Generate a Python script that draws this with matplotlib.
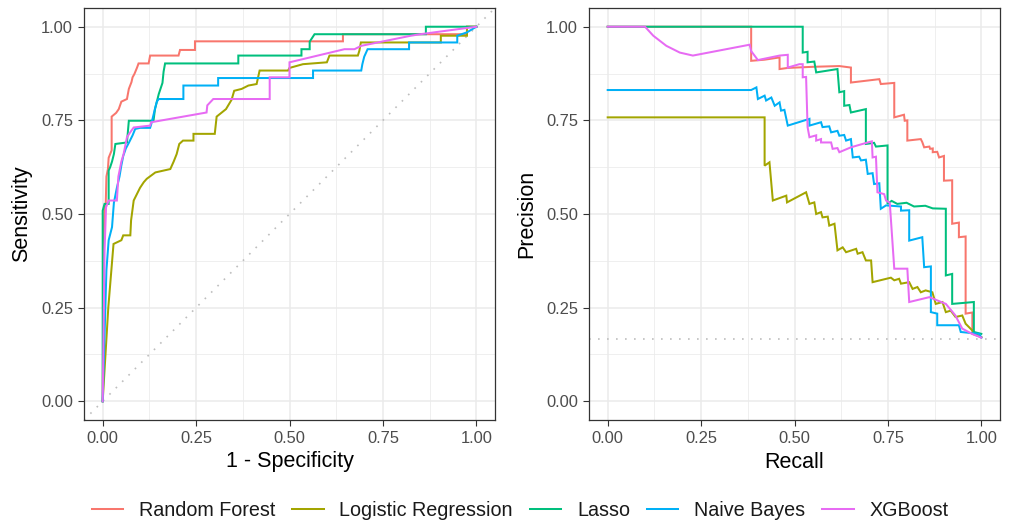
import numpy as np
import matplotlib
matplotlib.use("Agg")
import matplotlib.pyplot as plt
from matplotlib.lines import Line2D

plt.rcParams['font.family'] = ['Liberation Sans', 'DejaVu Sans']

# モデル名と色 (ggplot hue palette)
models = ["Random Forest", "Logistic Regression", "Lasso", "Naive Bayes", "XGBoost"]
colors = ["#F8766D", "#A3A500", "#00BF7D", "#00B0F6", "#E76BF3"]

# --- ROC curves (1 - specificity, sensitivity) ---
rf_roc = [(0, 0), (0.003, 0.45), (0.005, 0.52), (0.008, 0.52), (0.01, 0.6), (0.014, 0.62),
          (0.016, 0.65), (0.02, 0.66), (0.024, 0.67), (0.024, 0.76), (0.036, 0.77), (0.043, 0.78),
          (0.05, 0.80), (0.065, 0.807), (0.07, 0.834), (0.077, 0.852), (0.08, 0.865), (0.085, 0.874),
          (0.092, 0.891), (0.096, 0.902), (0.123, 0.902), (0.127, 0.923), (0.203, 0.923),
          (0.207, 0.938), (0.247, 0.938), (0.247, 0.961), (0.643, 0.961), (0.643, 0.98),
          (0.975, 0.98), (0.975, 1.0), (1.0, 1.0)]
lr_roc = [(0, 0), (0.015, 0.25), (0.029, 0.42), (0.05, 0.43), (0.055, 0.443), (0.074, 0.443),
          (0.076, 0.483), (0.083, 0.536), (0.09, 0.55), (0.1, 0.57), (0.11, 0.585), (0.118, 0.594),
          (0.141, 0.611), (0.181, 0.62), (0.19, 0.64), (0.198, 0.66), (0.205, 0.687), (0.215, 0.696),
          (0.243, 0.696), (0.243, 0.714), (0.3, 0.714), (0.305, 0.76), (0.33, 0.78), (0.345, 0.805),
          (0.352, 0.829), (0.372, 0.834), (0.39, 0.843), (0.412, 0.847), (0.42, 0.883), (0.496, 0.883),
          (0.5, 0.89), (0.536, 0.9), (0.6, 0.905), (0.607, 0.923), (0.683, 0.923), (0.687, 0.936),
          (0.691, 0.958), (0.905, 0.958), (0.905, 0.976), (0.975, 0.976), (0.975, 1.0), (1.0, 1.0)]
la_roc = [(0, 0), (0.0, 0.509), (0.005, 0.527), (0.016, 0.527), (0.016, 0.616), (0.02, 0.625),
          (0.025, 0.64), (0.03, 0.66), (0.034, 0.687), (0.065, 0.691), (0.07, 0.749), (0.136, 0.749),
          (0.14, 0.78), (0.145, 0.8), (0.15, 0.82), (0.155, 0.835), (0.16, 0.85), (0.163, 0.88),
          (0.167, 0.902), (0.363, 0.902), (0.363, 0.923), (0.532, 0.923), (0.532, 0.94),
          (0.554, 0.94), (0.554, 0.96), (0.567, 0.98), (0.865, 0.98), (0.865, 1.0), (1.0, 1.0)]
nb_roc = [(0, 0), (0.01, 0.35), (0.016, 0.43), (0.025, 0.465), (0.03, 0.53), (0.038, 0.57),
          (0.045, 0.6), (0.05, 0.63), (0.055, 0.655), (0.062, 0.675), (0.07, 0.69), (0.075, 0.70),
          (0.08, 0.71), (0.087, 0.727), (0.1, 0.73), (0.127, 0.73), (0.13, 0.74), (0.141, 0.785),
          (0.145, 0.80), (0.15, 0.807), (0.216, 0.807), (0.216, 0.843), (0.309, 0.843), (0.309, 0.863),
          (0.563, 0.863), (0.563, 0.883), (0.692, 0.883), (0.695, 0.9), (0.7, 0.92), (0.709, 0.94),
          (0.82, 0.94), (0.82, 0.958), (0.949, 0.958), (0.949, 0.976), (0.975, 0.985), (1.0, 1.0)]
xg_roc = [(0, 0), (0.005, 0.40), (0.009, 0.518), (0.016, 0.536), (0.038, 0.536), (0.042, 0.6),
          (0.05, 0.64), (0.056, 0.66), (0.065, 0.705), (0.075, 0.72), (0.083, 0.731), (0.127, 0.736),
          (0.13, 0.745), (0.278, 0.771), (0.28, 0.79), (0.296, 0.807), (0.447, 0.807), (0.447, 0.865),
          (0.5, 0.865), (0.5, 0.905), (0.647, 0.94), (0.674, 0.94), (0.692, 0.949), (0.825, 0.976),
          (0.85, 0.98), (1.0, 1.0)]

# --- PR curves (recall, precision) ---
rf_pr = [(0, 1), (0.384, 1), (0.384, 0.909), (0.42, 0.912), (0.46, 0.918), (0.46, 0.887),
         (0.482, 0.89), (0.55, 0.893), (0.62, 0.895), (0.651, 0.891), (0.651, 0.851), (0.727, 0.86),
         (0.731, 0.847), (0.767, 0.85), (0.767, 0.758), (0.793, 0.765), (0.795, 0.749), (0.802, 0.75),
         (0.802, 0.696), (0.838, 0.7), (0.842, 0.692), (0.847, 0.678), (0.861, 0.68), (0.863, 0.674),
         (0.87, 0.675), (0.87, 0.665), (0.882, 0.666), (0.887, 0.651), (0.9, 0.655), (0.9, 0.589),
         (0.922, 0.59), (0.922, 0.474), (0.94, 0.477), (0.94, 0.438), (0.958, 0.44), (0.958, 0.234),
         (0.976, 0.237), (0.976, 0.18), (1.0, 0.171)]
lr_pr = [(0, 0.758), (0.42, 0.758), (0.42, 0.629), (0.433, 0.638), (0.442, 0.536), (0.478, 0.549),
         (0.48, 0.531), (0.531, 0.558), (0.54, 0.527), (0.553, 0.531), (0.558, 0.5), (0.571, 0.505),
         (0.575, 0.491), (0.589, 0.493), (0.593, 0.469), (0.607, 0.474), (0.615, 0.403),
         (0.629, 0.411), (0.638, 0.398), (0.665, 0.407), (0.669, 0.394), (0.682, 0.398),
         (0.691, 0.376), (0.705, 0.376), (0.709, 0.318), (0.758, 0.33), (0.767, 0.323), (0.78, 0.327),
         (0.785, 0.314), (0.807, 0.318), (0.816, 0.3), (0.829, 0.305), (0.838, 0.291), (0.851, 0.296),
         (0.869, 0.291), (0.878, 0.26), (0.896, 0.265), (0.905, 0.238), (0.918, 0.242), (0.931, 0.225),
         (0.949, 0.229), (0.958, 0.207), (0.985, 0.18), (1.0, 0.171)]
la_pr = [(0, 1), (0.522, 1), (0.522, 0.931), (0.535, 0.933), (0.535, 0.905), (0.553, 0.907),
         (0.558, 0.878), (0.615, 0.887), (0.62, 0.825), (0.633, 0.828), (0.633, 0.789), (0.647, 0.791),
         (0.651, 0.771), (0.691, 0.78), (0.691, 0.687), (0.713, 0.69), (0.718, 0.68), (0.749, 0.683),
         (0.749, 0.527), (0.76, 0.535), (0.775, 0.527), (0.8, 0.53), (0.82, 0.52), (0.85, 0.522),
         (0.87, 0.515), (0.905, 0.514), (0.905, 0.336), (0.922, 0.34), (0.922, 0.26), (0.98, 0.265),
         (0.98, 0.185), (1.0, 0.18)]
nb_pr = [(0, 0.831), (0.384, 0.831), (0.398, 0.838), (0.402, 0.807), (0.42, 0.816), (0.424, 0.803),
         (0.438, 0.811), (0.447, 0.789), (0.46, 0.798), (0.464, 0.776), (0.473, 0.778), (0.482, 0.736),
         (0.54, 0.754), (0.54, 0.736), (0.571, 0.745), (0.575, 0.732), (0.593, 0.734), (0.598, 0.718),
         (0.615, 0.722), (0.62, 0.709), (0.633, 0.711), (0.638, 0.696), (0.651, 0.7), (0.656, 0.651),
         (0.673, 0.653), (0.678, 0.643), (0.691, 0.645), (0.696, 0.607), (0.709, 0.609), (0.713, 0.58),
         (0.727, 0.582), (0.731, 0.514), (0.745, 0.523), (0.785, 0.52), (0.785, 0.509), (0.807, 0.51),
         (0.807, 0.429), (0.842, 0.438), (0.847, 0.358), (0.865, 0.36), (0.865, 0.238), (0.882, 0.234),
         (0.882, 0.203), (0.94, 0.203), (0.945, 0.185), (0.994, 0.18), (1.0, 0.17)]
xg_pr = [(0, 1), (0.1, 1), (0.122, 0.976), (0.157, 0.949), (0.193, 0.931), (0.228, 0.923),
         (0.38, 0.952), (0.384, 0.935), (0.402, 0.911), (0.46, 0.923), (0.482, 0.925), (0.482, 0.891),
         (0.513, 0.9), (0.522, 0.9), (0.522, 0.865), (0.531, 0.866), (0.535, 0.732), (0.54, 0.705),
         (0.558, 0.71), (0.558, 0.696), (0.571, 0.7), (0.571, 0.691), (0.598, 0.691), (0.602, 0.674),
         (0.615, 0.676), (0.62, 0.665), (0.651, 0.678), (0.682, 0.687), (0.707, 0.694), (0.709, 0.651),
         (0.718, 0.653), (0.722, 0.558), (0.74, 0.553), (0.745, 0.536), (0.755, 0.53), (0.767, 0.354),
         (0.802, 0.354), (0.807, 0.265), (0.861, 0.278), (0.905, 0.26), (0.93, 0.23), (0.949, 0.194),
         (0.975, 0.18), (1.0, 0.17)]

roc_curves = [rf_roc, lr_roc, la_roc, nb_roc, xg_roc]
pr_curves = [rf_pr, lr_pr, la_pr, nb_pr, xg_pr]
baseline = 0.167  # 陽性率

ticks = [0, 0.25, 0.5, 0.75, 1.0]
tick_labels = ["0.00", "0.25", "0.50", "0.75", "1.00"]
minor = [0.125, 0.375, 0.625, 0.875]

W, H = 1009, 527
fig = plt.figure(figsize=(W / 100, H / 100), dpi=100)
ax1 = fig.add_axes([84 / W, 1 - 420 / H, 411 / W, 412 / H])
ax2 = fig.add_axes([589 / W, 1 - 420 / H, 411 / W, 412 / H])


def style(ax):
    ax.set_xlim(-0.05, 1.05)
    ax.set_ylim(-0.05, 1.05)
    ax.set_xticks(ticks)
    ax.set_xticklabels(tick_labels)
    ax.set_yticks(ticks)
    ax.set_yticklabels(tick_labels)
    ax.set_xticks(minor, minor=True)
    ax.set_yticks(minor, minor=True)
    ax.grid(which='major', color='#EBEBEB', lw=1.1)
    ax.grid(which='minor', color='#EBEBEB', lw=0.55)
    ax.set_axisbelow(True)
    ax.tick_params(which='major', length=4.5, width=0.8, color='#333333',
                   labelsize=11.9, labelcolor='#4D4D4D', pad=3.5)
    ax.tick_params(which='minor', length=0)
    for s in ax.spines.values():
        s.set_color('#333333')
        s.set_linewidth(0.9)


style(ax1)
style(ax2)

ax1.axline((0, 0), (1, 1), color='#BEBEBE', lw=1.2, ls=(0, (1, 4.4)), zorder=1.5)
ax2.axhline(baseline, color='#BEBEBE', lw=1.2, ls=(0, (1, 4.4)), zorder=1.5)

for pts, c in zip(roc_curves, colors):
    xy = np.array(pts)
    ax1.plot(xy[:, 0], xy[:, 1], color=c, lw=1.45, solid_joinstyle='miter')
for pts, c in zip(pr_curves, colors):
    xy = np.array(pts)
    ax2.plot(xy[:, 0], xy[:, 1], color=c, lw=1.45, solid_joinstyle='miter')

# 軸タイトル
fig.text(289.5 / W, 1 - 462 / H, "1 - Specificity", ha='center', va='center', fontsize=15.5)
fig.text(794.5 / W, 1 - 462 / H, "Recall", ha='center', va='center', fontsize=15.5)
fig.text(22 / W, 1 - 214 / H, "Sensitivity", ha='center', va='center', fontsize=15.5, rotation=90)
fig.text(527 / W, 1 - 214 / H, "Precision", ha='center', va='center', fontsize=15.5, rotation=90)

handles = [Line2D([], [], color=c, lw=1.45) for c in colors]
fig.legend(handles, models, loc='center', bbox_to_anchor=(520 / W, 1 - 510 / H), ncol=5,
           frameon=False, fontsize=14.2, handlelength=1.6, handletextpad=0.8,
           columnspacing=0.85, labelcolor='#1A1A1A')

fig.savefig("out.png", dpi=100)
